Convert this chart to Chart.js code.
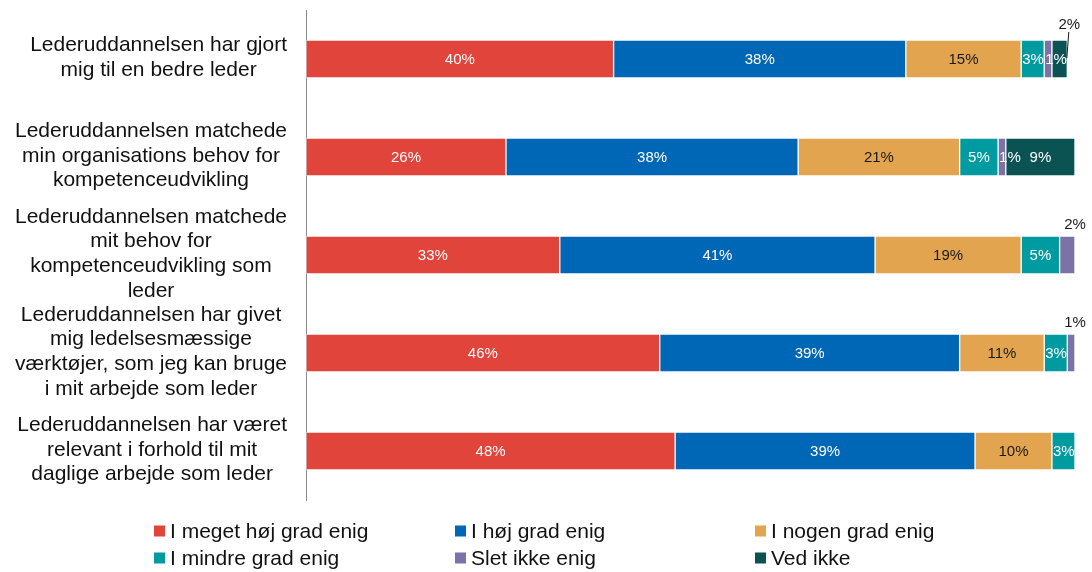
<!DOCTYPE html>
<html>
<head>
<meta charset="utf-8">
<script src="https://cdn.jsdelivr.net/npm/chart.js@4.4.1/dist/chart.umd.min.js"></script>
<style>
  html, body { margin: 0; padding: 0; background: #ffffff; }
  #wrap { position: relative; width: 1092px; height: 572px; }
</style>
</head>
<body>
<div id="wrap"><canvas id="chart"></canvas></div>
<script>
// Survey statements (one per bar) and answer categories
const statements = [
  ['Lederuddannelsen har gjort', 'mig til en bedre leder'],
  ['Lederuddannelsen matchede', 'min organisations behov for', 'kompetenceudvikling'],
  ['Lederuddannelsen matchede', 'mit behov for', 'kompetenceudvikling som', 'leder'],
  ['Lederuddannelsen har givet', 'mig ledelsesmæssige', 'værktøjer, som jeg kan bruge', 'i mit arbejde som leder'],
  ['Lederuddannelsen har været', 'relevant i forhold til mit', 'daglige arbejde som leder']
];
const answers = ['I meget høj grad enig', 'I høj grad enig', 'I nogen grad enig',
                 'I mindre grad enig', 'Slet ikke enig', 'Ved ikke'];

// Share of respondents (%) per statement
const megetHoej  = [40, 26, 33, 46, 48];
const hoej       = [38, 38, 41, 39, 39];
const nogen      = [15, 21, 19, 11, 10];
const mindre     = [3, 5, 5, 3, 3];
const sletIkke   = [1, 1, 2, 1, 0];
const vedIkke    = [2, 9, 0, 0, 0];

const colors = ['#e0443a', '#0066b6', '#e3a44f', '#009ba1', '#7b73a7', '#0b5252'];
const labelColors = ['#ffffff', '#ffffff', '#1a1a1a', '#ffffff', '#ffffff', '#ffffff'];
const FONT = '"Liberation Sans", Arial, sans-serif';

const seriesValues = [megetHoej, hoej, nogen, mindre, sletIkke, vedIkke];

// value labels on the segments, small trailing ones above the bar end
const segmentLabels = {
  id: 'segmentLabels',
  afterDatasetsDraw(chart) {
    const ctx = chart.ctx;
    ctx.save();
    ctx.font = '15px ' + FONT;
    ctx.textBaseline = 'middle';
    ctx.textAlign = 'center';
    statements.forEach((_, i) => {
      let last = -1;
      seriesValues.forEach((vals, d) => { if (vals[i] > 0) last = d; });
      seriesValues.forEach((vals, d) => {
        const v = vals[i];
        if (!v) return;
        const el = chart.getDatasetMeta(d).data[i];
        const left = Math.min(el.base, el.x), right = Math.max(el.base, el.x);
        const top = el.y - el.height / 2;
        const text = v + '%';
        const w = ctx.measureText(text).width;
        if (d === last && v <= 2) {
          ctx.fillStyle = '#1a1a1a';
          const prev = seriesValues[d - 1][i];
          if (prev < 3) {
            ctx.fillText(text, right + 2, top - 15);
            ctx.strokeStyle = '#1a1a1a';
            ctx.lineWidth = 1;
            ctx.beginPath();
            ctx.moveTo(right + 1.5, top - 8);
            ctx.lineTo(right - 0.5, top + 18);
            ctx.stroke();
          } else {
            ctx.fillText(text, right, top - 11);
          }
          return;
        }
        ctx.fillStyle = labelColors[d];
        const x = w > right - left - 2 ? left + w / 2 + 1 : (left + right) / 2;
        ctx.fillText(text, x, el.y + 0.5);
      });
    });
    ctx.restore();
  },
  afterDraw(chart) {
    const ctx = chart.ctx;
    const yScale = chart.scales.y;
    ctx.save();
    ctx.font = '21px ' + FONT;
    ctx.fillStyle = '#111111';
    ctx.textAlign = 'center';
    ctx.textBaseline = 'middle';
    // statement labels: each block centred on its own widest line
    statements.forEach((lines, i) => {
      const y = yScale.getPixelForValue(i);
      const widest = Math.max(...lines.map(l => ctx.measureText(l).width));
      const cx = chart.chartArea.left - 19 - widest / 2;
      lines.forEach((l, k) => {
        ctx.fillText(l, cx, y + (k - (lines.length - 1) / 2) * 24.7 - 1);
      });
    });
    // legend, 3 columns x 2 rows
    const cols = [154, 455, 755];
    const rows = [531, 558];
    ctx.textAlign = 'left';
    answers.forEach((name, d) => {
      const x = cols[d % 3], y = rows[Math.floor(d / 3)];
      ctx.fillStyle = colors[d];
      ctx.fillRect(x, y - 5.5, 11, 11);
      ctx.fillStyle = '#111111';
      ctx.fillText(name, x + 16, y + 1);
    });
    ctx.restore();
  }
};

new Chart(document.getElementById('chart'), {
  type: 'bar',
  data: {
    labels: statements,
    datasets: answers.map((name, d) => ({
      label: name,
      data: seriesValues[d],
      backgroundColor: colors[d],
      borderColor: 'rgba(255,255,255,0.55)',
      borderWidth: 1,
      borderSkipped: false,
      barThickness: 38
    }))
  },
  options: {
    indexAxis: 'y',
    responsive: true,
    maintainAspectRatio: false,
    animation: false,
    layout: { padding: { top: 10, bottom: 72, right: 17, left: 0 } },
    scales: {
      x: { stacked: true, min: 0, max: 100, display: false },
      y: {
        stacked: true,
        grid: { display: false, drawTicks: false },
        border: { display: true, color: '#8a8a8a', width: 1 },
        ticks: { display: false },
        afterFit(scale) { scale.width = 306; }
      }
    },
    plugins: {
      legend: { display: false },
      tooltip: { enabled: false }
    }
  },
  plugins: [segmentLabels]
});
</script>
</body>
</html>
